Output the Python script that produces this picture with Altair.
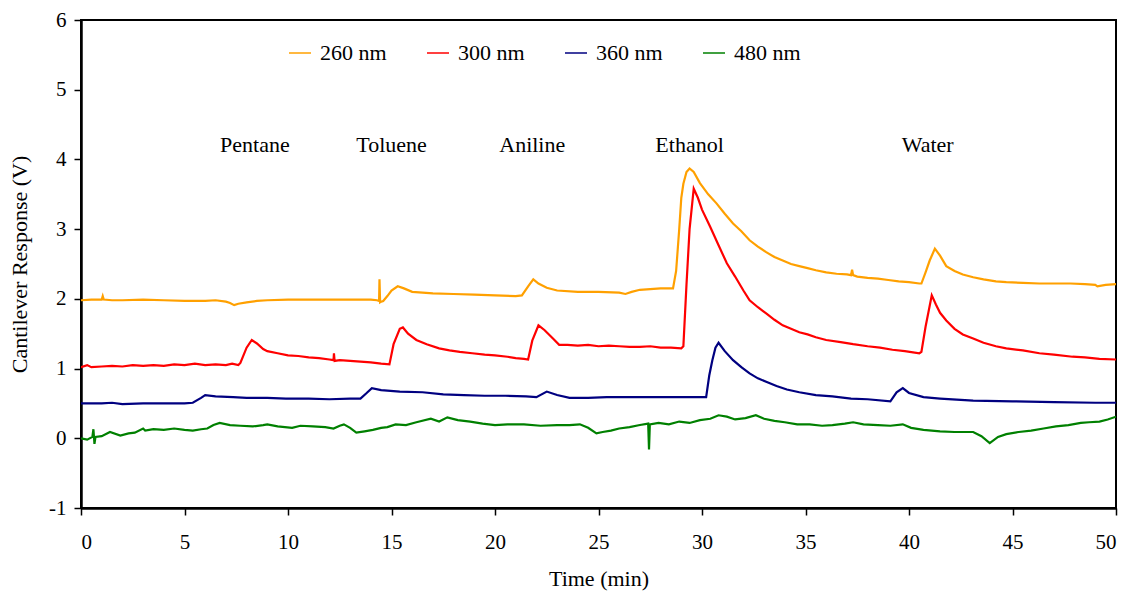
import altair as alt
import pandas as pd

# ---- data ----
series_names = ["260 nm", "300 nm", "360 nm", "480 nm"]
series_colors = ["#FFA000", "#FF0000", "#000080", "#008000"]

nm260 = [(0, 1.98), (0.5, 1.99), (1.0, 1.99), (1.05, 2.04), (1.1, 1.99), (1.5, 1.98), (2, 1.98), (3, 1.99),
         (4, 1.98), (5, 1.97), (6, 1.97), (6.5, 1.98), (7, 1.96), (7.2, 1.94), (7.4, 1.91), (7.6, 1.93),
         (8, 1.95), (8.5, 1.97), (9, 1.98), (10, 1.99), (11, 1.99), (12, 1.99), (13, 1.99), (14, 1.99),
         (14.3, 1.98), (14.4, 1.97), (14.42, 2.28), (14.45, 1.95), (14.5, 1.96), (14.6, 1.97), (14.8, 2.04),
         (15.0, 2.12), (15.3, 2.18), (15.6, 2.15), (16, 2.10), (16.5, 2.09), (17, 2.08), (18, 2.07),
         (19, 2.06), (20, 2.05), (21, 2.04), (21.3, 2.05), (21.6, 2.18), (21.85, 2.28), (22.1, 2.22),
         (22.5, 2.16), (23, 2.12), (24, 2.10), (25, 2.10), (26, 2.09), (26.3, 2.07), (26.6, 2.10),
         (27, 2.13), (28, 2.15), (28.6, 2.15), (28.75, 2.40), (28.9, 3.00), (29.0, 3.45), (29.1, 3.65),
         (29.25, 3.82), (29.4, 3.87), (29.6, 3.82), (29.9, 3.66), (30.3, 3.50), (30.7, 3.37), (31.1, 3.22),
         (31.5, 3.08), (31.9, 2.97), (32.3, 2.84), (32.7, 2.75), (33.1, 2.67), (33.5, 2.60), (33.9, 2.55),
         (34.3, 2.50), (34.7, 2.47), (35.1, 2.44), (35.5, 2.41), (36, 2.38), (36.5, 2.36), (37, 2.35),
         (37.2, 2.34), (37.25, 2.42), (37.3, 2.34), (37.5, 2.32), (38, 2.30), (38.5, 2.29), (39, 2.27),
         (39.5, 2.25), (40, 2.24), (40.5, 2.22), (40.6, 2.22), (40.8, 2.38), (41.0, 2.55), (41.25, 2.72),
         (41.5, 2.62), (41.8, 2.47), (42.2, 2.40), (42.6, 2.35), (43.1, 2.31), (43.6, 2.28), (44.2, 2.25),
         (44.7, 2.24), (45.5, 2.23), (46.3, 2.22), (47, 2.22), (47.8, 2.22), (48.5, 2.21), (49, 2.20),
         (49.1, 2.18), (49.5, 2.20), (50, 2.21)]

nm300 = [(0, 1.02), (0.3, 1.05), (0.5, 1.02), (1, 1.03), (1.5, 1.04), (2, 1.03), (2.5, 1.05), (3, 1.04),
         (3.5, 1.05), (4, 1.04), (4.5, 1.06), (5, 1.05), (5.5, 1.07), (6, 1.05), (6.5, 1.06), (7, 1.05),
         (7.3, 1.07), (7.6, 1.05), (7.7, 1.08), (8.0, 1.30), (8.25, 1.41), (8.5, 1.36), (8.8, 1.28),
         (9.0, 1.25), (9.5, 1.22), (10, 1.19), (10.5, 1.18), (11, 1.16), (11.5, 1.15), (12, 1.13),
         (12.2, 1.12), (12.22, 1.22), (12.25, 1.11), (12.5, 1.12), (13, 1.11), (13.5, 1.10), (14, 1.09),
         (14.5, 1.07), (14.9, 1.06), (15.1, 1.35), (15.4, 1.57), (15.55, 1.59), (15.8, 1.50), (16.2, 1.41),
         (16.7, 1.35), (17.3, 1.29), (17.8, 1.26), (18.3, 1.24), (18.9, 1.22), (19.5, 1.20), (20, 1.19),
         (20.6, 1.17), (21, 1.15), (21.4, 1.14), (21.6, 1.13), (21.8, 1.40), (22.1, 1.62), (22.4, 1.55),
         (22.8, 1.43), (23.1, 1.34), (23.5, 1.34), (24, 1.33), (24.5, 1.34), (25, 1.32), (25.5, 1.33),
         (26, 1.32), (26.5, 1.31), (27, 1.31), (27.5, 1.32), (28, 1.30), (28.5, 1.30), (29.0, 1.29),
         (29.1, 1.32), (29.25, 2.20), (29.4, 3.00), (29.6, 3.58), (29.8, 3.45), (30.0, 3.28), (30.4, 3.03),
         (30.8, 2.77), (31.2, 2.51), (31.6, 2.32), (32.0, 2.12), (32.3, 1.98), (32.7, 1.88), (33.1, 1.79),
         (33.5, 1.70), (33.9, 1.62), (34.3, 1.57), (34.7, 1.52), (35.1, 1.49), (35.5, 1.45), (36, 1.41),
         (36.7, 1.38), (37.3, 1.35), (38, 1.32), (38.6, 1.30), (39.2, 1.27), (39.8, 1.25), (40.5, 1.22),
         (40.6, 1.24), (40.8, 1.60), (41.1, 2.05), (41.3, 1.92), (41.5, 1.80), (41.8, 1.69), (42.2, 1.57),
         (42.6, 1.49), (43.1, 1.43), (43.6, 1.37), (44.2, 1.32), (44.7, 1.29), (45.5, 1.26), (46.3, 1.22),
         (47, 1.20), (47.9, 1.17), (48.5, 1.16), (49.2, 1.14), (50, 1.13)]

nm360 = [(0, 0.50), (1, 0.50), (1.5, 0.51), (2, 0.49), (3, 0.50), (4, 0.50), (5, 0.50), (5.4, 0.51),
         (5.8, 0.58), (6.0, 0.62), (6.5, 0.60), (7.35, 0.59), (8, 0.58), (9, 0.58), (9.9, 0.57), (11, 0.57),
         (12, 0.56), (13, 0.57), (13.5, 0.57), (13.8, 0.65), (14.05, 0.72), (14.5, 0.69), (15.4, 0.67),
         (16.5, 0.66), (17.5, 0.63), (18.5, 0.62), (19.5, 0.61), (20.5, 0.61), (21.5, 0.60), (22.0, 0.59),
         (22.5, 0.67), (23.0, 0.62), (23.6, 0.58), (24.5, 0.58), (25.4, 0.59), (26.5, 0.59), (27.5, 0.59),
         (28.5, 0.59), (29.5, 0.59), (30.2, 0.59), (30.35, 0.90), (30.5, 1.12), (30.65, 1.30), (30.8, 1.37),
         (31.1, 1.25), (31.5, 1.12), (31.9, 1.02), (32.3, 0.93), (32.7, 0.86), (33.1, 0.81), (33.6, 0.75),
         (34.1, 0.70), (34.7, 0.66), (35.5, 0.62), (36.3, 0.60), (37.2, 0.57), (38, 0.56), (39.1, 0.53),
         (39.4, 0.66), (39.7, 0.72), (40.0, 0.65), (40.7, 0.59), (41.5, 0.57), (43.1, 0.54), (45, 0.53),
         (47, 0.52), (49, 0.51), (50, 0.51)]

nm480 = [(0, 0.00), (0.3, -0.02), (0.55, 0.02), (0.6, 0.13), (0.65, -0.08), (0.7, 0.02), (1.0, 0.03),
         (1.4, 0.09), (1.9, 0.04), (2.3, 0.07), (2.6, 0.08), (3.0, 0.14), (3.1, 0.11), (3.5, 0.13),
         (4, 0.12), (4.5, 0.14), (5, 0.12), (5.4, 0.11), (5.8, 0.13), (6.1, 0.14), (6.4, 0.19), (6.7, 0.22),
         (7.2, 0.19), (7.7, 0.18), (8.3, 0.17), (8.8, 0.19), (9.0, 0.20), (9.5, 0.17), (10.2, 0.15),
         (10.6, 0.18), (11.2, 0.17), (11.8, 0.16), (12.2, 0.14), (12.5, 0.18), (12.7, 0.20), (13.0, 0.15),
         (13.3, 0.08), (13.7, 0.10), (14.1, 0.12), (14.5, 0.15), (14.8, 0.16), (15.2, 0.20), (15.7, 0.19),
         (16.2, 0.23), (16.9, 0.28), (17.3, 0.24), (17.7, 0.30), (18.2, 0.26), (18.8, 0.24), (19.4, 0.21),
         (20, 0.19), (20.6, 0.20), (21.4, 0.20), (22.2, 0.18), (23, 0.19), (23.6, 0.19), (24.1, 0.20),
         (24.5, 0.15), (24.9, 0.07), (25.2, 0.09), (25.6, 0.11), (26, 0.14), (26.5, 0.16), (27, 0.19),
         (27.4, 0.21), (27.44, -0.16), (27.48, 0.20), (27.9, 0.22), (28.4, 0.20), (28.9, 0.24), (29.4, 0.22),
         (29.9, 0.26), (30.4, 0.28), (30.8, 0.33), (31.2, 0.31), (31.6, 0.27), (32.1, 0.29), (32.6, 0.33),
         (33.0, 0.28), (33.5, 0.25), (34.0, 0.23), (34.6, 0.20), (35.2, 0.20), (35.8, 0.18), (36.3, 0.19),
         (36.9, 0.21), (37.3, 0.23), (37.8, 0.20), (38.5, 0.19), (39.1, 0.18), (39.7, 0.20), (40.1, 0.15),
         (40.7, 0.12), (41.5, 0.10), (42.2, 0.09), (43.1, 0.09), (43.5, 0.03), (43.9, -0.07), (44.3, 0.02),
         (44.7, 0.06), (45.3, 0.09), (45.9, 0.11), (46.5, 0.14), (47.1, 0.17), (47.7, 0.19), (48.3, 0.22),
         (48.7, 0.23), (49.2, 0.24), (49.6, 0.27), (50, 0.31)]

solvents = ["Pentane", "Toluene", "Aniline", "Ethanol", "Water"]
solvent_x = [8.4, 15.0, 21.8, 29.4, 40.9]
solvent_y = [4.2, 4.2, 4.2, 4.2, 4.2]

x_ticks = [0, 5, 10, 15, 20, 25, 30, 35, 40, 45, 50]
y_ticks = [-1, 0, 1, 2, 3, 4, 5, 6]

# ---- build table ----
rows = []
for name, pts in zip(series_names, [nm260, nm300, nm360, nm480]):
    for t, v in pts:
        rows.append({"series": name, "t": t, "v": v})
df = pd.DataFrame(rows)
ann = pd.DataFrame({"label": solvents, "t": solvent_x, "v": solvent_y})

FONT = "Liberation Serif"

x_scale = alt.Scale(domain=[0, 50], nice=False, zero=False)
y_scale = alt.Scale(domain=[-1, 6], nice=False, zero=False)

lines = alt.Chart(df).mark_line(strokeWidth=2.2, clip=True).encode(
    x=alt.X("t:Q", scale=x_scale,
            axis=alt.Axis(title="Time (min)", values=x_ticks, grid=False, labelPadding=16,
                          titlePadding=16, labelExpr="toString(datum.value)",
                          labelFont=FONT, titleFont=FONT)),
    y=alt.Y("v:Q", scale=y_scale,
            axis=alt.Axis(title="Cantilever Response (V)", values=y_ticks, grid=False,
                          labelPadding=8, titlePadding=17, labelExpr="toString(datum.value)",
                          labelFont=FONT, titleFont=FONT)),
    color=alt.Color("series:N",
                    scale=alt.Scale(domain=series_names, range=series_colors),
                    legend=alt.Legend(title=None, orient="none", legendX=207, legendY=21,
                                      direction="horizontal", columns=4, symbolType="stroke",
                                      symbolSize=484, symbolStrokeWidth=1.5, labelFontSize=22,
                                      labelFont=FONT, labelColor="black", columnPadding=37,
                                      labelOffset=8)),
    order=alt.Order("t:Q"),
)

labels = alt.Chart(ann).mark_text(font=FONT, fontSize=22, color="black", align="center",
                                  baseline="middle").encode(
    x=alt.X("t:Q", scale=x_scale), y=alt.Y("v:Q", scale=y_scale), text="label:N")

chart = (lines + labels).properties(
    width=1035, height=488,
    autosize=alt.AutoSizeParams(type="none"),
    padding={"left": 81, "top": 20, "right": 18, "bottom": 86},
    background="white",
).configure(font=FONT).configure_view(
    stroke="#000000", strokeWidth=2, strokeOpacity=1
).configure_axis(
    domainColor="black", domainWidth=2.5, tickColor="black", tickWidth=1.5, tickSize=7,
    labelFont=FONT, labelFontSize=21, labelColor="black",
    titleFont=FONT, titleFontSize=22, titleColor="black", titleFontWeight="normal",
).configure_legend(labelFont=FONT)

chart.save("out.html", embed_options={"renderer": "svg", "actions": False})
